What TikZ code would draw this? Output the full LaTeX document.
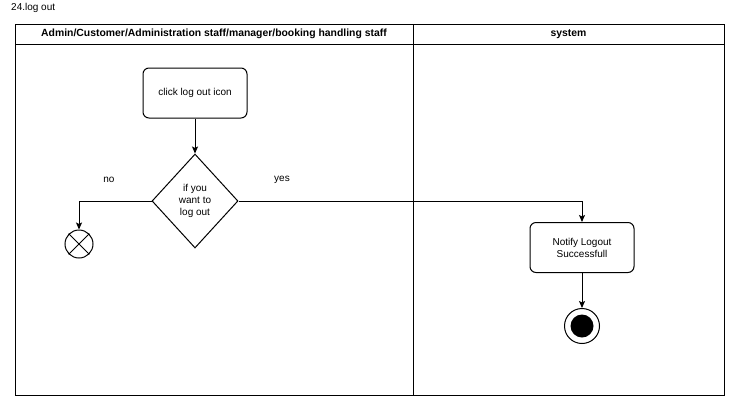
\documentclass[tikz,border=0pt]{standalone}
\usepackage{fontspec}
\setmainfont{Liberation Sans}
\usetikzlibrary{shapes.geometric,arrows.meta}
\begin{document}
\begin{tikzpicture}[x=1pt,y=-1pt,
  frame/.style={draw=black,line width=1pt},
  act/.style={draw=black,line width=1pt,rounded corners=6pt,minimum width=104pt,minimum height=50pt,align=center,font=\fontsize{10}{12}\selectfont,inner sep=0pt},
  dec/.style={draw=black,line width=1pt,diamond,minimum width=86pt,minimum height=94pt,inner sep=0pt,align=center,font=\fontsize{10}{12}\selectfont},
  flow/.style={draw=black,line width=1pt,-{Stealth[length=7pt,width=6pt,inset=1.5pt]}},
  lbl/.style={font=\fontsize{10}{12}\selectfont,inner sep=0pt},
  hdr/.style={font=\bfseries\fontsize{10.4}{12}\selectfont,inner sep=0pt}]
\useasboundingbox (0,0) rectangle (742,413);
% title
\node[anchor=west,font=\fontsize{10}{12}\selectfont,inner sep=0pt] (title) at (11,8) {24.log out};
% swimlanes
\draw[frame] (15,24) rectangle (724,395);
\draw[frame] (15,44) -- (724,44);
\draw[frame] (413,24) -- (413,395);
\node[hdr] (h1) at (214,34) {Admin/Customer/Administration staff/manager/booking handling staff};
\node[hdr] (h2) at (568.5,34) {system};
% nodes
\node[act] (click) at (195,93) {click log out icon};
\node[dec] (dec) at (195,201) {if you\\want to\\log out};
\node[draw=black,line width=1pt,circle,minimum size=28pt,inner sep=0pt] (stop) at (79,244) {};
\draw[line width=1pt] (stop.north west) -- (stop.south east) (stop.north east) -- (stop.south west);
\node[act] (notify) at (582,247.5) {Notify Logout\\Successfull};
\node[draw=black,line width=1pt,circle,minimum size=35pt,inner sep=0pt] (final) at (582,326) {};
\node[fill=black,circle,minimum size=23pt,inner sep=0pt] (finaldot) at (final.center) {};
% connectors
\draw[flow] (click) -- (dec);
\draw[flow] (dec.west) -| (stop.north);
\draw[flow] (dec.east) -| (notify.north);
\draw[flow] (notify) -- (final);
% labels
\node[lbl] (no) at (109,180) {no};
\node[lbl] (yes) at (282,180) {yes};
\end{tikzpicture}
\end{document}
